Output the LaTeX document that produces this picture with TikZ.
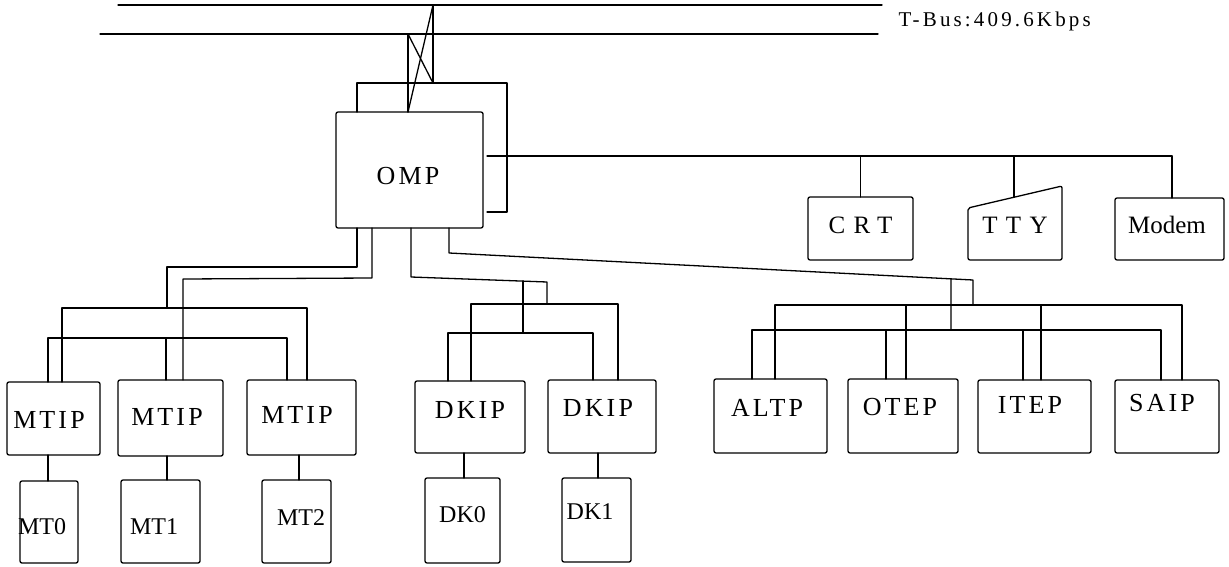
\documentclass[tikz,border=0pt]{standalone}
\usepackage{fontspec}
\setmainfont{Liberation Serif}
\usetikzlibrary{calc}
\begin{document}
\begin{tikzpicture}[x=1pt,y=-1pt,line width=1.3pt,line cap=round,line join=round,
  box/.style={draw,rectangle,rounded corners=2pt,inner sep=0pt,outer sep=0pt},
  lbl/.style={font=\fontsize{26}{28}\selectfont\addfontfeature{LetterSpace=12}},
  wide/.style={font=\fontsize{25}{27}\selectfont\addfontfeature{LetterSpace=33}},
  plain/.style={font=\fontsize{25}{27}\selectfont},
  small/.style={font=\fontsize{24}{26}\selectfont},
  bustxt/.style={font=\fontsize{21}{23}\selectfont\addfontfeature{LetterSpace=15}}]
\useasboundingbox (0,0) rectangle (1229,567);

% T-Bus
\coordinate (busTa) at (118,5);  \coordinate (busTb) at (882,5);
\coordinate (busBa) at (100,34); \coordinate (busBb) at (878,34);
\draw (busTa) -- (busTb);
\draw (busBa) -- (busBb);
\node[bustxt,anchor=west,inner sep=0pt] (tbus) at (898,21) {T-Bus:409.6Kbps};

% OMP
\node[box,minimum width=147,minimum height=116,
  label={[lbl,xshift=-1.5pt,yshift=-6pt]center:OMP}] (OMP) at (409.5,170) {};

% peripherals
\node[box,minimum width=105,minimum height=63,
  label={[wide,yshift=3.5pt]center:CRT}] (CRT) at (860.5,228.5) {};
\coordinate (ttyTL) at (968,208); \coordinate (ttyTR) at (1062,186);
\draw[rounded corners=2pt] (ttyTL) -- (ttyTR) -- (1062,260) -- (968,260) -- cycle;
\node[wide,inner sep=0pt] (TTY) at (1015,225) {TTY};
\node[box,minimum width=109,minimum height=62,
  label={[plain,xshift=-2.5pt,yshift=4pt]center:Modem}] (Modem) at (1169.5,229) {};

% second level
\node[box,minimum width=93,minimum height=73,
  label={[lbl,xshift=-4.5pt,yshift=-1.5pt]center:MTIP}] (MTIP0) at (53.5,418.5) {};
\node[box,minimum width=105,minimum height=76,
  label={[lbl,xshift=-3.5pt,yshift=1pt]center:MTIP}] (MTIP1) at (170.5,418) {};
\node[box,minimum width=109,minimum height=75,
  label={[lbl,xshift=-4.5pt,yshift=2.5pt]center:MTIP}] (MTIP2) at (301.5,417.5) {};
\node[box,minimum width=110,minimum height=72,
  label={[lbl,yshift=7pt]center:DKIP}] (DKIP0) at (470,417) {};
\node[box,minimum width=108,minimum height=73,
  label={[lbl,xshift=-4pt,yshift=8.5pt]center:DKIP}] (DKIP1) at (602,416.5) {};
\node[box,minimum width=113,minimum height=74,
  label={[lbl,xshift=-3.5pt,yshift=8pt]center:ALTP}] (ALTP) at (770.5,416) {};
\node[box,minimum width=110,minimum height=74,
  label={[lbl,xshift=-3pt,yshift=9pt]center:OTEP}] (OTEP) at (903,416) {};
\node[box,minimum width=113,minimum height=73,
  label={[lbl,xshift=-4.5pt,yshift=11.5pt]center:ITEP}] (ITEP) at (1034.5,416.5) {};
\node[box,minimum width=104,minimum height=73,
  label={[lbl,xshift=-5pt,yshift=13.5pt]center:SAIP}] (SAIP) at (1167,416.5) {};

% third level
\node[box,minimum width=58,minimum height=82,
  label={[small,xshift=-7pt,yshift=-5pt]center:MT0}] (MT0) at (49,522) {};
\node[box,minimum width=79,minimum height=83,
  label={[small,xshift=-6.5pt,yshift=-5.5pt]center:MT1}] (MT1) at (160.5,521.5) {};
\node[box,minimum width=69,minimum height=83,
  label={[small,xshift=4.5pt,yshift=3.5pt]center:MT2}] (MT2) at (296.5,521.5) {};
\node[box,minimum width=75,minimum height=85,
  label={[small,yshift=5.5pt]center:DK0}] (DK0) at (462.5,520.5) {};
\node[box,minimum width=69,minimum height=84,
  label={[small,xshift=-6.5pt,yshift=8pt]center:DK1}] (DK1) at (596.5,520) {};

% bus to OMP (crossed pair) and loop
\coordinate (x1t) at (433,5);
\coordinate (x2t) at (408,34);
\coordinate (lpTR) at (433,83);
\draw (x2t) -- (OMP.north -| x2t);
\draw (x1t) -- (lpTR);
\draw (x1t) -- (OMP.north -| x2t);
\draw (x2t) -- (lpTR);
\draw (OMP.north -| 357,0) -- (357,83) -- (507,83) -- (507,212) -- (487,212);

% peripheral line
\coordinate (pS) at (487,156);
\coordinate (pE) at (1172,156);
\draw (pS) -- (pE);
\draw (CRT.north |- pS) -- (CRT.north);
\coordinate (ttyIn) at ($(ttyTL)!0.489!(ttyTR)$);
\draw (ttyIn |- pS) -- (ttyIn);
\draw (pE) -- (Modem.north -| pE);

% MTIP group
\draw (OMP.south -| 357,0) |- (167,267) -- (167,308);
\draw (MTIP0.north -| 62,0) |- (307,308) -- (MTIP2.north -| 307,0);
\draw (OMP.south -| 372,0) -- (372,278) -- (183,279) -- (MTIP1.north -| 183,0);
\draw (MTIP0.north -| 48,0) |- (287,338) -- (MTIP2.north -| 287,0);
\draw (166,338) -- (MTIP1.north -| 166,0);

% DKIP group
\draw (OMP.south -| 411,0) -- (411,277) -- (547,282) -- (547,304);
\draw (523,281) -- (523,333);
\draw (DKIP0.north -| 471,0) |- (618,304) -- (DKIP1.north -| 618,0);
\draw (DKIP0.north -| 448,0) |- (593,333) -- (DKIP1.north -| 593,0);

% ALTP group
\coordinate (aK) at (449,253);
\coordinate (aC) at (973,280);
\draw (OMP.south -| aK) -- (aK) -- (aC) -- (973,305);
\draw ($(aK)!0.958!(aC)$) -- (951,330);
\draw (ALTP.north -| 775,0) |- (1182,305) -- (SAIP.north -| 1182,0);
\draw (906,305) -- (OTEP.north -| 906,0);
\draw (1041,305) -- (ITEP.north -| 1041,0);
\draw (ALTP.north -| 752,0) |- (1161,330) -- (SAIP.north -| 1161,0);
\draw (886,330) -- (OTEP.north -| 886,0);
\draw (1023,330) -- (ITEP.north -| 1023,0);

% lower links
\draw (MTIP0.south -| 48,0) -- (MT0.north -| 48,0);
\draw (MTIP1.south -| 167,0) -- (MT1.north -| 167,0);
\draw (MTIP2.south -| 299,0) -- (MT2.north -| 299,0);
\draw (DKIP0.south -| 464,0) -- (DK0.north -| 464,0);
\draw (DKIP1.south -| 598,0) -- (DK1.north -| 598,0);
\end{tikzpicture}
\end{document}
